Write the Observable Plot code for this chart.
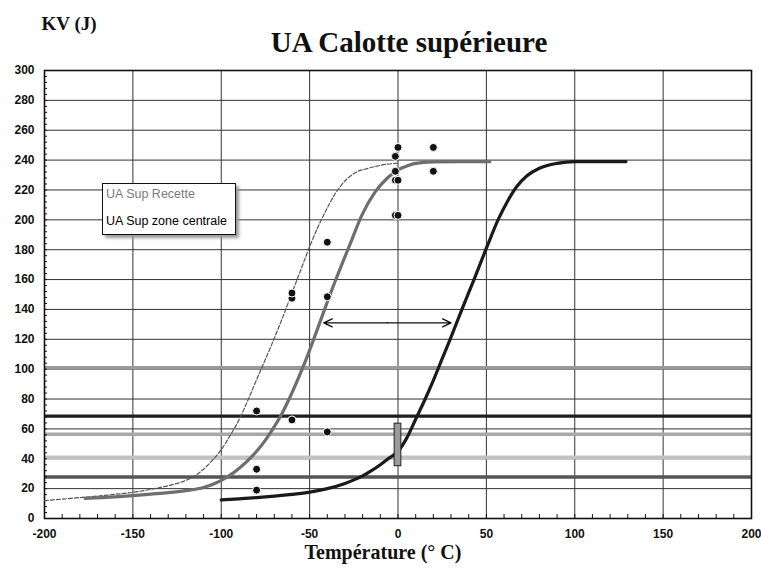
<!DOCTYPE html>
<html><head><meta charset="utf-8">
<script src="https://cdn.jsdelivr.net/npm/d3@7"></script>
<script src="https://cdn.jsdelivr.net/npm/@observablehq/plot@0.6"></script>
<style>
body{margin:0;background:#fff;}
#wrap{position:relative;width:761px;height:569px;overflow:hidden;}
#legend{position:absolute;z-index:2;left:102px;top:183px;width:134px;height:52px;border:1.5px solid #111;background:#fff;box-shadow:3px 3px 3px #999;font-family:"Liberation Sans",Arial,sans-serif;font-size:12.5px;box-sizing:border-box;}
#legend div{position:absolute;left:3px;white-space:nowrap;}
</style></head><body>
<div id="wrap"></div>
<script>
// Curve 1: UA Sup Recette (dashed)
const recetteX = [-200,-190,-180,-170,-160,-150,-140,-130,-120,-115,-110,-105,-100,-95,-90,-85,-80,-76,-72,-68,-64,-60,-55,-50,-45,-40,-35,-30,-25,-17,-10,0];
const recetteY = [12,13,14,15,16.2,17.5,19.5,22,25.5,28.5,33,39,46,55.5,66,79,93,104,115,126.5,138.5,151,166.5,182,196,208,218.5,226,231,234.5,236.5,238];
// Curve 2: gray solid
const grayX = [-177,-160,-150,-140,-130,-120,-110,-105,-100,-95,-90,-85,-80,-75,-70,-66,-61,-56,-52,-48,-44,-40,-36,-32,-27,-20.5,-13,-6,0,5,10,20,35,52];
const grayY = [13.5,14.5,15.3,16.3,17.3,18.7,20.8,22.8,25.5,29,33.5,38.8,45,52.5,61.5,69.5,81.5,95,106.5,119,132,145,157.5,169.5,184,203,218.5,228,233.5,236,237.8,238.8,239,239];
// Curve 3: black solid (zone centrale)
const blackX = [-100,-90,-80,-70,-60,-50,-40,-30,-20,-15,-10,-5,0,5,10,15,20,25,30,36,43,50,57,62,67,73,80,90,100,129];
const blackY = [12.5,13.2,14,15,16.2,17.7,20,23.5,28.5,32,36,40.5,45,54,66.5,79,92.5,107,121.5,139.5,160,181,201,212.5,222,229.5,234.5,237.8,239,239];
// Test points
const pointX = [-80,-80,-80,-60,-60,-60,-40,-40,-40,0,-1.5,-1.5,-1.5,0,-1.5,0,20,20];
const pointY = [72,33,19,66,147.5,151,58,148.5,185,248.5,242.5,232.5,226.5,226.5,203,203,248.5,232.5];
// Reference horizontal levels
const refValues = [101,68.5,56.4,40.8,27.8];
const refColors = ["#9a9a9a","#1e1e1e","#a8a8a8","#c2c2c2","#555555"];
const refWidths = [3.5,3.2,3.5,4,3.5];
// Scatter bar at 0 °C
const boxX = [-1.9,1.9];
const boxY = [35,63.5];
// Shift arrow (double-headed)
const arrowX = [-42,30];
const arrowY = 131;
// Axis ticks
const xTicks = [-200,-150,-100,-50,0,50,100,150,200];
const yTicks = [0,20,40,60,80,100,120,140,160,180,200,220,240,260,280,300];
const xMinor = d3.range(-190,200,10);
const yMinor = d3.range(4,300,4);
const titleText = "UA Calotte supérieure";
const yTitle = "KV (J)";
const xTitle = "Température (° C)";
const legendLabels = ["UA Sup Recette","UA Sup zone centrale"];

const toRows = (xs, ys) => xs.map((x,i) => ({x, y: ys[i]}));
const serif = "'Liberation Serif','Times New Roman',serif";
const arrowMid = (arrowX[0] + arrowX[1]) / 2;
const arrowRows = arrowX.map(end => ({x1: arrowMid, x2: end, y: arrowY}));

const chart = Plot.plot({
  width: 761, height: 569,
  marginLeft: 44, marginRight: 10, marginTop: 70, marginBottom: 51,
  x: {domain: [-200,200]},
  y: {domain: [0,300]},
  style: {fontFamily: "'Liberation Sans',Arial,sans-serif", background: "#fff", color: "#111"},
  marks: [
    Plot.ruleY(yTicks.filter(v => v > 0 && v < 300), {stroke: "#333", strokeWidth: 1}),
    Plot.ruleX(xTicks.filter(v => v > -200 && v < 200), {stroke: "#333", strokeWidth: 1}),
    ...refValues.map((v,i) => Plot.ruleY([v], {stroke: refColors[i], strokeWidth: refWidths[i]})),
    Plot.ruleX(xMinor, {insetTop: 444, stroke: "#111", strokeWidth: 1}),
    Plot.ruleY(yMinor, {insetRight: 704, stroke: "#111", strokeWidth: 1}),
    Plot.frame({stroke: "#111", strokeWidth: 1.6}),
    Plot.axisX(xTicks, {tickSize: 0, tickPadding: 11, fontWeight: "bold", fontSize: 12, label: null, tickFormat: d => String(d)}),
    Plot.axisY(yTicks, {tickSize: 0, tickPadding: 10, fontWeight: "bold", fontSize: 12, label: null, tickFormat: d => String(d)}),
    Plot.line(toRows(recetteX, recetteY), {x: "x", y: "y", curve: "monotone-x", stroke: "#555", strokeWidth: 1.2, strokeDasharray: "4,2"}),
    Plot.line(toRows(grayX, grayY), {x: "x", y: "y", curve: "monotone-x", stroke: "#6e6e6e", strokeWidth: 3.2}),
    Plot.line(toRows(blackX, blackY), {x: "x", y: "y", curve: "monotone-x", stroke: "#1a1a1a", strokeWidth: 3.2}),
    Plot.rect([0], {x1: () => boxX[0], x2: () => boxX[1], y1: () => boxY[0], y2: () => boxY[1], fill: "#9a9a9a", stroke: "#222", strokeWidth: 1}),
    Plot.arrow(arrowRows, {x1: "x1", x2: "x2", y1: "y", y2: "y", bend: 0, headLength: 10, headAngle: 50, stroke: "#111", strokeWidth: 1.4}),
    Plot.dot(toRows(pointX, pointY), {x: "x", y: "y", r: 4, fill: "#111", stroke: "#fff", strokeWidth: 1}),
    Plot.text([titleText], {frameAnchor: "top", dx: 11, dy: -39, fontFamily: serif, fontWeight: "bold", fontSize: 29, fill: "#111"}),
    Plot.text([yTitle], {frameAnchor: "top-left", textAnchor: "start", dx: -3, dy: -54, fontFamily: serif, fontWeight: "bold", fontSize: 19, fill: "#111"}),
    Plot.text([xTitle], {frameAnchor: "bottom", dx: -15, dy: 40, fontFamily: serif, fontWeight: "bold", fontSize: 20, fill: "#111"})
  ]
});
const wrap = document.getElementById("wrap");
wrap.appendChild(chart);
const legend = document.createElement("div");
legend.id = "legend";
legend.innerHTML = `<div style="top:3px;color:#7a7a7a">${legendLabels[0]}</div><div style="top:30px;color:#000">${legendLabels[1]}</div>`;
wrap.appendChild(legend);
</script>
</body></html>
